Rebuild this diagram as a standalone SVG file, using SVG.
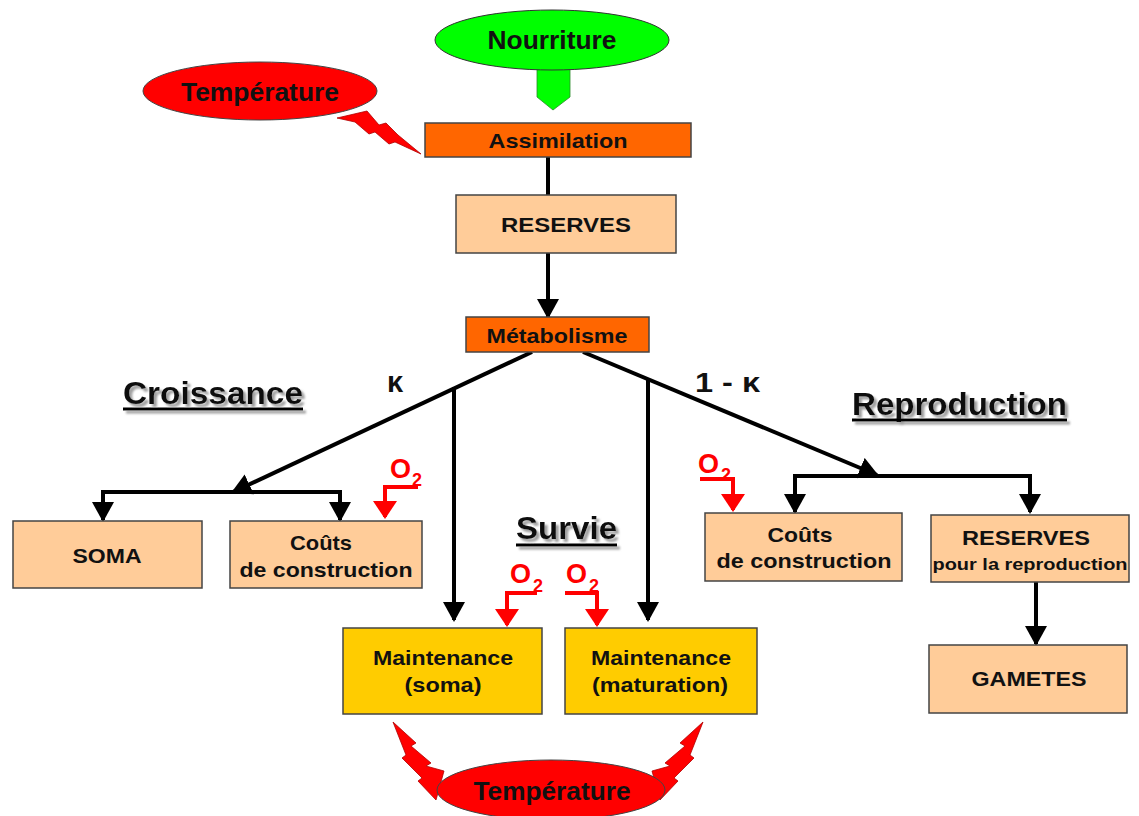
<svg xmlns="http://www.w3.org/2000/svg" width="1139" height="816" viewBox="0 0 1139 816">
<style>
text{font-family:"Liberation Sans",Arial,sans-serif;font-weight:bold;}
.bt{font-size:21px;fill:#111;text-anchor:middle;}
.big{font-size:26px;fill:#111;text-anchor:middle;}
.hd{font-size:32px;fill:#111;}
.peach{fill:#FFCC99;stroke:#444;stroke-width:1.5;}
.orange{fill:#FF6600;stroke:#444;stroke-width:1.5;}
.yellow{fill:#FFCC00;stroke:#444;stroke-width:1.5;}
.red{fill:#FF0000;stroke:#444;stroke-width:1;}
.bolt{fill:#FF0000;stroke:#B00000;stroke-width:0.8;}
.ln{fill:none;stroke:#000;stroke-width:4;}
.la{fill:none;stroke:#000;stroke-width:4;marker-end:url(#ah);}
.ra{fill:none;stroke:#FF0000;stroke-width:4;marker-end:url(#rh);}
.o2{font-size:27px;fill:#FF0000;}
.o2s{font-size:18px;fill:#FF0000;}
.ul{stroke:#000;stroke-width:3;}
.shadow{filter:url(#ds);}
</style>
<defs>
<filter id="ds" x="-10%" y="-30%" width="130%" height="170%">
<feDropShadow dx="3" dy="3" stdDeviation="1.2" flood-color="#888" flood-opacity="0.8"/>
</filter>
<marker id="ah" viewBox="0 0 20 22" refX="18" refY="11" markerWidth="20" markerHeight="22" markerUnits="userSpaceOnUse" orient="auto">
<path d="M0,0 L20,11 L0,22 z" fill="#000"/>
</marker>
<marker id="rh" viewBox="0 0 18 24" refX="16" refY="12" markerWidth="18" markerHeight="24" markerUnits="userSpaceOnUse" orient="auto">
<path d="M0,0 L18,12 L0,24 z" fill="#FF0000"/>
</marker>
</defs>
<rect x="0" y="0" width="1139" height="816" fill="#fff"/>

<g id="connectors">
<path class="ln" d="M548,157 V195"/>
<path class="la" d="M548,253 V317"/>
<path class="la" d="M532,352 L233,492"/>
<path class="la" d="M583,352 L877,475"/>
<path class="la" d="M454,387 V620"/>
<path class="la" d="M648,378 V620"/>
<path class="la" d="M236,492 H103 V520"/>
<path class="la" d="M230,492 H340 V520"/>
<path class="la" d="M880,476 H795 V512"/>
<path class="la" d="M874,476 H1030 V512"/>
<path class="la" d="M1036,582 V644"/>
</g>

<g id="labels">
<text x="395" y="392" style="font-size:29px;fill:#111;text-anchor:middle">κ</text>
<text x="695" y="392" style="font-size:28px;fill:#111" textLength="65" lengthAdjust="spacingAndGlyphs">1 - κ</text>
</g>

<g id="heading-croissance" class="shadow">
<text class="hd" x="123" y="404" textLength="180" lengthAdjust="spacingAndGlyphs">Croissance</text>
<line class="ul" x1="123" y1="409" x2="303" y2="409"/>
</g>
<g id="heading-survie" class="shadow">
<text class="hd" x="516" y="539" textLength="101" lengthAdjust="spacingAndGlyphs">Survie</text>
<line class="ul" x1="516" y1="545" x2="617" y2="545"/>
</g>
<g id="heading-reproduction" class="shadow">
<text class="hd" x="852" y="415" textLength="215" lengthAdjust="spacingAndGlyphs">Reproduction</text>
<line class="ul" x1="852" y1="420" x2="1067" y2="420"/>
</g>

<g id="nourriture">
<path d="M537,68 H570 V97 L553,110 L537,97 Z" fill="#00FF00" stroke="#2a8a2a" stroke-width="0.8"/>
<ellipse cx="552" cy="40" rx="117" ry="30" fill="#00FF00" stroke="#333" stroke-width="1"/>
<text class="big" x="552" y="49" textLength="129" lengthAdjust="spacingAndGlyphs">Nourriture</text>
</g>

<g id="temperature-top">
<polygon class="bolt" points="337,118 367,111 379,125 386,123 398,135 421,154 395,142 389,144 375,132 369,134 355,122"/>
<ellipse class="red" cx="260" cy="91" rx="117" ry="29"/>
<text class="big" x="260" y="101" textLength="158" lengthAdjust="spacingAndGlyphs">Température</text>
</g>

<g id="assimilation">
<rect class="orange" x="425" y="123" width="266" height="34"/>
<text class="bt" x="558" y="148" textLength="139" lengthAdjust="spacingAndGlyphs">Assimilation</text>
</g>

<g id="reserves">
<rect class="peach" x="456" y="195" width="220" height="58"/>
<text class="bt" x="566" y="232" textLength="130" lengthAdjust="spacingAndGlyphs">RESERVES</text>
</g>

<g id="metabolisme">
<rect class="orange" x="466" y="317" width="183" height="35"/>
<text class="bt" x="557" y="343" textLength="141" lengthAdjust="spacingAndGlyphs">Métabolisme</text>
</g>

<g id="soma">
<rect class="peach" x="13" y="521" width="189" height="67"/>
<text class="bt" x="107" y="563" textLength="69" lengthAdjust="spacingAndGlyphs">SOMA</text>
</g>

<g id="couts-croissance">
<rect class="peach" x="230" y="521" width="192" height="67"/>
<text class="bt" x="321" y="550" textLength="62" lengthAdjust="spacingAndGlyphs">Coûts</text>
<text class="bt" x="326" y="577" textLength="173" lengthAdjust="spacingAndGlyphs">de construction</text>
</g>

<g id="couts-reproduction">
<rect class="peach" x="705" y="513" width="197" height="68"/>
<text class="bt" x="800" y="542" textLength="65" lengthAdjust="spacingAndGlyphs">Coûts</text>
<text class="bt" x="804" y="568" textLength="175" lengthAdjust="spacingAndGlyphs">de construction</text>
</g>

<g id="reserves-reproduction">
<rect class="peach" x="931" y="515" width="198" height="67"/>
<text class="bt" x="1026" y="545" textLength="128" lengthAdjust="spacingAndGlyphs">RESERVES</text>
<text x="1030" y="570" style="font-size:16px;fill:#111;text-anchor:middle" textLength="195" lengthAdjust="spacingAndGlyphs">pour la reproduction</text>
</g>

<g id="gametes">
<rect class="peach" x="929" y="645" width="198" height="68"/>
<text class="bt" x="1029" y="686" textLength="115" lengthAdjust="spacingAndGlyphs">GAMETES</text>
</g>

<g id="maintenance-soma">
<rect class="yellow" x="343" y="628" width="199" height="86"/>
<text class="bt" x="443" y="665" textLength="140" lengthAdjust="spacingAndGlyphs">Maintenance</text>
<text class="bt" x="443" y="692" textLength="77" lengthAdjust="spacingAndGlyphs">(soma)</text>
</g>

<g id="maintenance-maturation">
<rect class="yellow" x="565" y="628" width="192" height="86"/>
<text class="bt" x="661" y="665" textLength="140" lengthAdjust="spacingAndGlyphs">Maintenance</text>
<text class="bt" x="660" y="692" textLength="136" lengthAdjust="spacingAndGlyphs">(maturation)</text>
</g>

<g id="o2-croissance">
<text class="o2" x="390" y="478">O</text>
<text class="o2s" x="412" y="486">2</text>
<path class="ra" d="M418,487 H385 V517"/>
</g>
<g id="o2-reproduction">
<text class="o2" x="698" y="473">O</text>
<text class="o2s" x="721" y="481">2</text>
<path class="ra" d="M700,479 H733 V510"/>
</g>
<g id="o2-soma">
<text class="o2" x="510" y="583">O</text>
<text class="o2s" x="533" y="592">2</text>
<path class="ra" d="M537,593 H507 V625"/>
</g>
<g id="o2-maturation">
<text class="o2" x="566" y="583">O</text>
<text class="o2s" x="589" y="592">2</text>
<path class="ra" d="M565,593 H597 V625"/>
</g>

<g id="temperature-bottom">
<polygon class="bolt" points="393,722 416,743 411,746 431,763 426,766 444,771 436,800 418,781 422,778 402,758 406,755"/>
<polygon class="bolt" points="703,722 680,743 685,746 665,763 670,766 652,771 660,800 678,781 674,778 694,758 690,755"/>
<ellipse class="red" cx="551" cy="790" rx="114" ry="30"/>
<text class="big" x="552" y="800" textLength="157" lengthAdjust="spacingAndGlyphs">Température</text>
</g>
</svg>
